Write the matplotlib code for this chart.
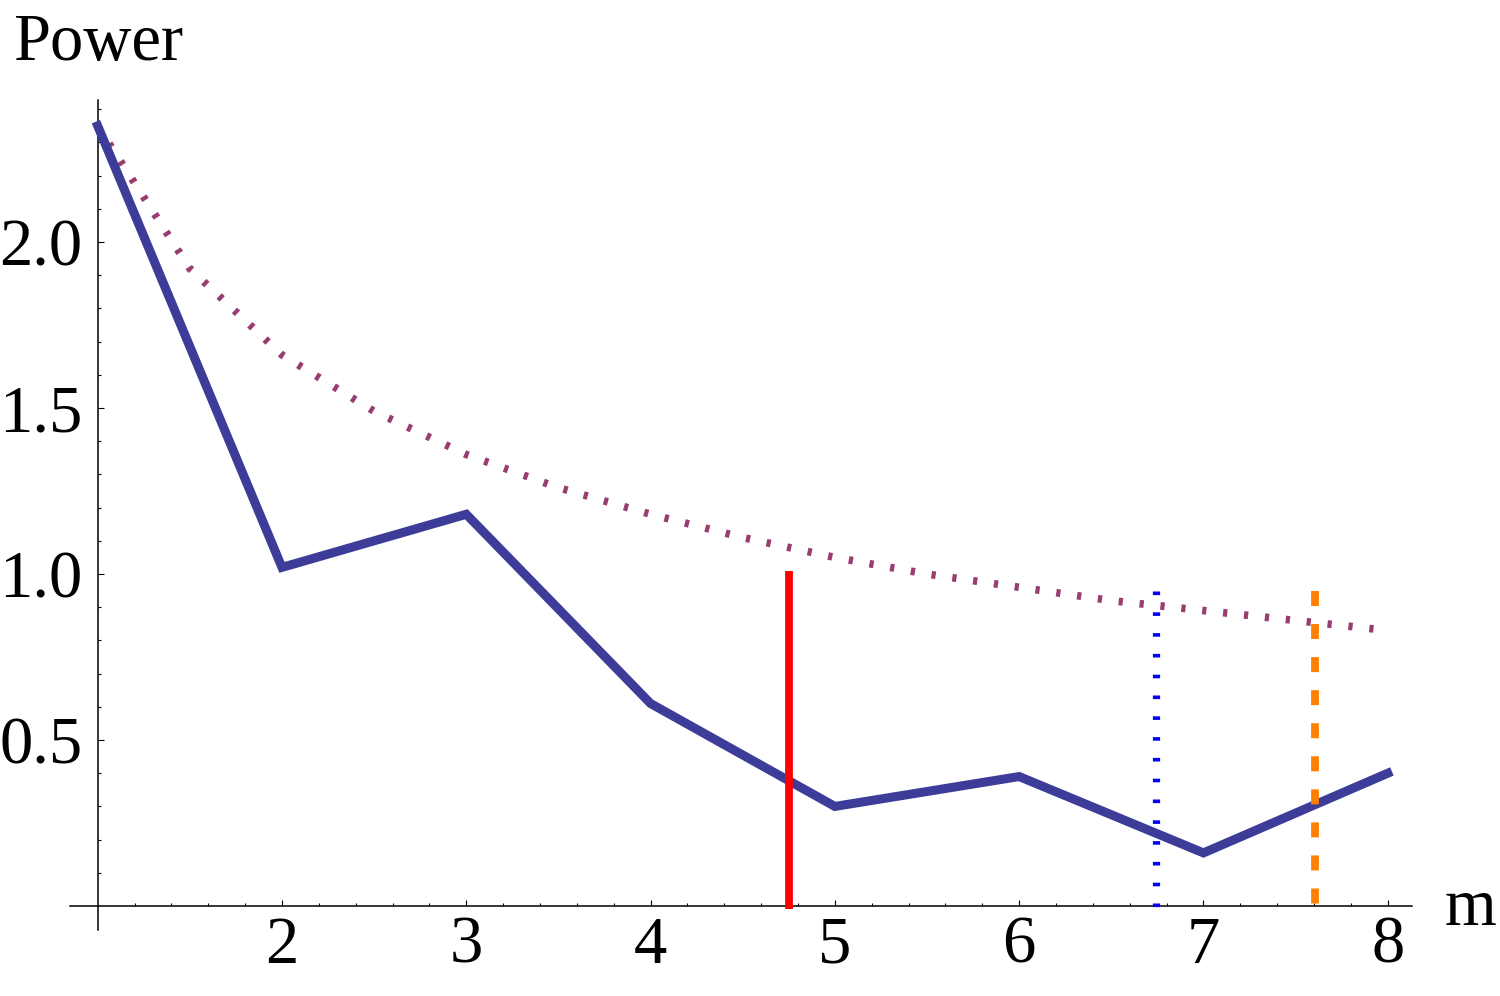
import matplotlib
matplotlib.use("Agg")
import matplotlib.pyplot as plt
import numpy as np
from matplotlib.ticker import FixedLocator

########################################################
# data

m_vals = [1, 2, 3, 4, 5, 6, 7, 8]
power_vals = [2.35, 1.02, 1.18, 0.61, 0.30, 0.39, 0.16, 0.40]

bound_m = [1, 1.5, 2, 2.5, 3, 3.5, 4, 4.5, 5, 5.5, 6, 6.5, 7, 7.5, 8]
bound_vals = [2.35, 1.92, 1.66, 1.49, 1.36, 1.26, 1.18, 1.11, 1.05, 1.00, 0.96, 0.92, 0.89, 0.86, 0.83]

red_x, red_top = 4.75, 1.01
blue_x, blue_top = 6.745, 0.95
orange_x, orange_top = 7.605, 0.95

x_major = [2, 3, 4, 5, 6, 7, 8]
y_major = [0.5, 1.0, 1.5, 2.0]

########################################################

plt.rcParams["font.family"] = ["Liberation Serif", "DejaVu Serif"]

fig = plt.figure(figsize=(15, 9.96), dpi=100)
ax = fig.add_axes([0, 0, 1, 1])
ax.set_xlim(0.470, 8.609)
ax.set_ylim(-0.271, 2.729)

ax.plot(m_vals, power_vals, color="#3d3d99", lw=6.5, solid_joinstyle="miter", zorder=3)
ax.plot(bound_m, bound_vals, color="#993d71", lw=5.5, linestyle=(0, (0.55, 2.2)),
        dash_capstyle="butt", zorder=2)

# vertical markers, drawn top -> bottom so the dash pattern starts at the top
ax.plot([red_x, red_x], [red_top, -0.01], color="#ff0000", lw=5.6, solid_capstyle="butt", zorder=4)
ax.plot([blue_x, blue_x], [blue_top, -0.01], color="#0000ff", lw=5.2,
        linestyle=(0, (0.5, 2.38)), dash_capstyle="butt", zorder=4)
ax.plot([orange_x, orange_x], [orange_top, -0.01], color="#ff8000", lw=5.6,
        linestyle=(0, (1.93, 2.32)), dash_capstyle="butt", zorder=4)

for side in ["top", "right"]:
    ax.spines[side].set_visible(False)
ax.spines["left"].set_position(("data", 1.0))
ax.spines["bottom"].set_position(("data", 0.0))
ax.spines["left"].set_bounds(-0.072, 2.428)
ax.spines["bottom"].set_bounds(0.85, 8.131)
for side in ["left", "bottom"]:
    ax.spines[side].set_linewidth(1.1)

ax.xaxis.set_major_locator(FixedLocator(x_major))
ax.xaxis.set_minor_locator(FixedLocator(np.round(np.arange(1.2, 8.01, 0.2), 2)))
ax.yaxis.set_major_locator(FixedLocator(y_major))
ax.yaxis.set_minor_locator(FixedLocator(np.round(np.arange(0.1, 2.41, 0.1), 2)))
ax.set_xticklabels([str(v) for v in x_major])
ax.set_yticklabels([f"{v:.1f}" for v in y_major])

ax.tick_params(axis="both", which="both", direction="in", width=0.8, labelsize=48)
ax.tick_params(axis="both", which="major", length=4)
ax.tick_params(axis="both", which="minor", length=2.5)
ax.tick_params(axis="x", which="major", pad=7)
ax.tick_params(axis="y", which="major", pad=11)

fig.text(13 / 1500, 1 - 60 / 996, "Power", fontsize=48, ha="left", va="baseline")
fig.text(1445 / 1500, 1 - 925 / 996, "m", fontsize=48, ha="left", va="baseline")

fig.savefig("out.png", dpi=100)
